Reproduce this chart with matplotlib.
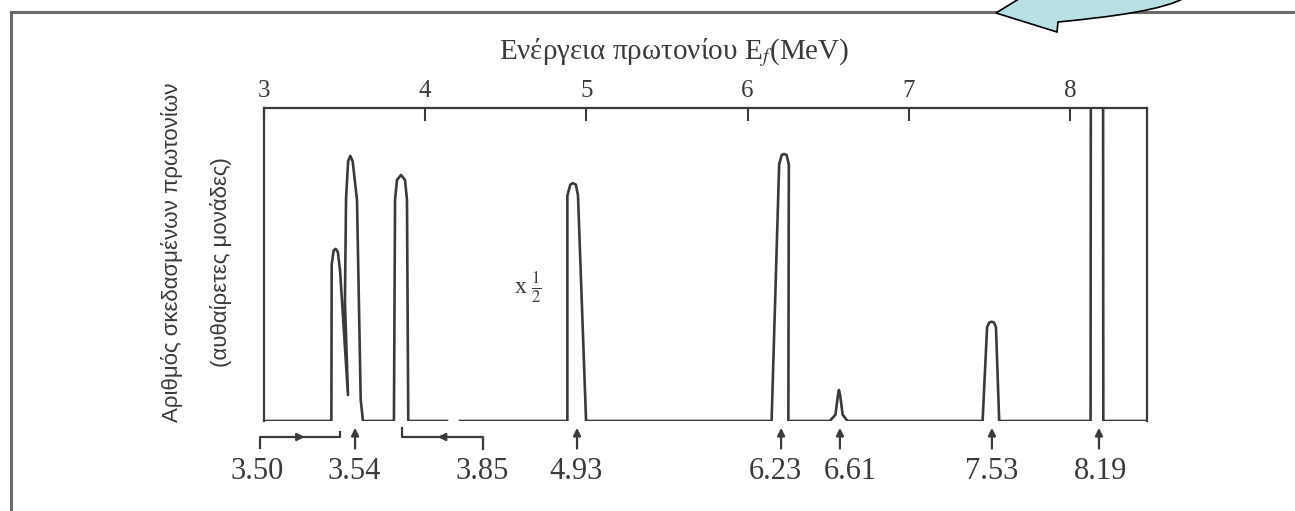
import matplotlib
matplotlib.use('Agg')
import matplotlib.pyplot as plt
import matplotlib.transforms as mtransforms
from matplotlib.path import Path
from matplotlib.patches import PathPatch
from matplotlib.lines import Line2D
import numpy as np

plt.rcParams['mathtext.fontset'] = 'stix'

# spectrum: proton energy E_f (MeV) vs counts
# (arbitrary units, 100 = top of the frame); nan marks the gap in the baseline
energy = [3.000, 3.418, 3.420, 3.432, 3.445, 3.458, 3.472, 3.521, 3.502, 3.509,
          3.522, 3.535, 3.550, 3.577, 3.600, 3.614,
          3.806, 3.813, 3.825, 3.850, 3.875, 3.887, 3.895, 4.135, np.nan,
          4.216, 4.882, 4.882, 4.900, 4.917, 4.935, 4.948, 4.998,
          6.149, 6.196, 6.212, 6.226, 6.242, 6.256, 6.253,
          6.510, 6.545, 6.560, 6.567, 6.575, 6.590, 6.620,
          7.458, 7.486, 7.500, 7.514, 7.528, 7.541, 7.561,
          8.128, 8.130, 8.205, 8.207, 8.478]
counts = [0, 0, 50, 54.5, 55.0, 54, 48, 8.3, 38, 71,
          83, 84.7, 83, 70.6, 6.7, 0,
          0, 70.6, 77, 78.6, 77, 70.6, 0, 0, np.nan,
          0, 0, 72, 75.5, 76.0, 75.5, 72, 0,
          0, 82, 85, 85.3, 85, 82, 0,
          0, 2, 8, 9.9, 8, 2, 0,
          0, 30, 31.5, 31.7, 31.5, 30, 0,
          0, 140, 140, 0, 0]

top_ticks = [3, 4, 5, 6, 7, 8]

# level markers under the spectrum
marker_E = [3.565, 4.942, 6.208, 6.573, 7.516, 8.180]
label_E = [2.957, 3.558, 4.352, 4.935, 6.170, 6.635, 7.516, 8.192]
label_text = ['3.50', '3.54', '3.85', '4.93', '6.23', '6.61', '7.53', '8.19']

# ranges marked with brackets, arrow direction +1 right / -1 left
bracket_lo = [2.975, 3.856]
bracket_hi = [3.471, 4.359]
bracket_dir = [1, -1]

ink = '#3a3a3a'
W, H = 1295, 511

fig = plt.figure(figsize=(W / 100, H / 100), dpi=100)
ax = fig.add_axes([264 / W, 1 - 421 / H, 883 / W, 313 / H])

ax.plot(energy, counts, color=ink, lw=1.9, solid_joinstyle='round')
ax.set_xlim(3.0, 8.478)
ax.set_ylim(0, 100)

ax.spines['bottom'].set_visible(False)
for side in ['top', 'left', 'right']:
    ax.spines[side].set_color(ink)
    ax.spines[side].set_linewidth(1.6)

ax.set_yticks([])
ax.xaxis.tick_top()
ax.set_xticks(top_ticks)
ax.tick_params(axis='x', direction='in', length=9, width=1.5, pad=4,
               labelsize=18, colors=ink)
for lab in ax.get_xticklabels():
    lab.set_family('Liberation Serif')

ax.text(0.465, 1.124, r'Ενέργεια πρωτονίου E$_{f}$(MeV)', transform=ax.transAxes,
        ha='center', va='bottom', fontsize=21, family='Liberation Serif', color=ink)

ax.text(-0.104, 0.54, 'Αριθμός σκεδασμένων πρωτονίων', transform=ax.transAxes,
        rotation=90, ha='center', va='center', fontsize=16,
        family='Liberation Sans', color=ink)
ax.text(-0.049, 0.508, '(αυθαίρετες μονάδες)', transform=ax.transAxes,
        rotation=90, ha='center', va='center', fontsize=16,
        family='Liberation Sans', color=ink)

ax.text(4.638, 42.5, r'x $\frac{1}{2}$', ha='center', va='center', fontsize=17,
        family='Liberation Serif', color=ink)

# annotations below the axis
trans = mtransforms.blended_transform_factory(ax.transData, ax.transAxes)
arrow_kw = dict(arrowstyle='-|>', color=ink, lw=1.6, mutation_scale=11,
                shrinkA=0, shrinkB=0)

for e in marker_E:
    ax.annotate('', xy=(e, -0.022), xytext=(e, -0.088), xycoords=trans,
                textcoords=trans, arrowprops=arrow_kw, annotation_clip=False)

y_br = -0.051
for lo, hi, d in zip(bracket_lo, bracket_hi, bracket_dir):
    y_lo = -0.086 if d > 0 else -0.022
    y_hi = -0.035 if d > 0 else -0.089
    ax.plot([lo, lo, hi, hi], [y_lo, y_br, y_br, y_hi], transform=trans,
            clip_on=False, color=ink, lw=1.6)
    mid = 0.5 * (lo + hi)
    ax.annotate('', xy=(mid + d * 0.03, y_br), xytext=(mid - d * 0.03, y_br),
                xycoords=trans, textcoords=trans, arrowprops=arrow_kw,
                annotation_clip=False)

for e, t in zip(label_E, label_text):
    ax.text(e, -0.160, t, transform=trans, ha='center', va='center',
            fontsize=22, family='Liberation Serif', color=ink, clip_on=False)

# page frame
fig.add_artist(Line2D([11 / W, 11 / W], [0, 1 - 12 / H], color='#6a6a6a', lw=2.2))
fig.add_artist(Line2D([11 / W, 1], [1 - 12 / H, 1 - 12 / H], color='#6a6a6a', lw=2.2))

# light blue callout arrow at the top
px = [(996, 13), (1022, -3), (1022, -12), (1195, -12), (1186, -3),
      (1165, 10), (1110, 17), (1058, 22), (1057, 32), (996, 13)]
codes = [Path.MOVETO, Path.LINETO, Path.LINETO, Path.LINETO, Path.LINETO,
         Path.CURVE4, Path.CURVE4, Path.CURVE4, Path.LINETO, Path.CLOSEPOLY]
verts = [(x / W, 1 - y / H) for x, y in px]
fig.add_artist(PathPatch(Path(verts, codes), facecolor='#b8dfe4', edgecolor='black',
                         lw=1.2, transform=fig.transFigure, zorder=5))

plt.savefig('out.png', dpi=100)
plt.close()
